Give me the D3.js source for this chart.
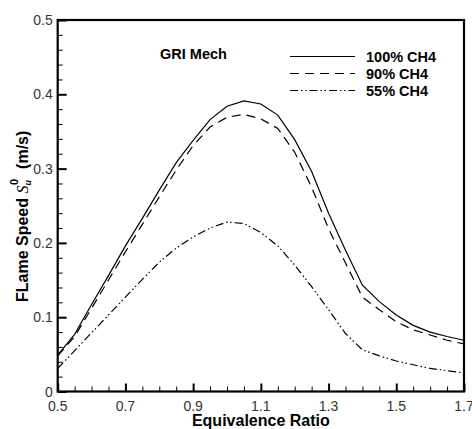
<!DOCTYPE html>
<head>
  <meta charset="utf-8">
  <style>
  body { margin: 0; background: #fff; }
  svg { display: block; font-family: "Liberation Sans", Arial, sans-serif; }
  .tickLabel { font-size: 14px; fill: #333; }
  .axisTitle { font-size: 16px; font-weight: bold; fill: #000; }
  .legendText { font-size: 14.5px; font-weight: bold; fill: #000; }
  .curve { fill: none; stroke: #000; stroke-width: 1.2; }
  </style>
</head>
<body>
<script src="https://cdn.jsdelivr.net/npm/d3@7"></script>
<script>
  const width = 472, height = 429;
  const margin = { top: 20, right: 8, bottom: 37.5, left: 57.7 };

  // equivalence ratio samples
  const phi = [0.5, 0.55, 0.6, 0.65, 0.7, 0.75, 0.8, 0.85, 0.9, 0.95, 1.0, 1.05, 1.1,
               1.15, 1.2, 1.25, 1.3, 1.35, 1.4, 1.45, 1.5, 1.55, 1.6, 1.65, 1.7];
  const ch4_100 = [0.049, 0.077, 0.117, 0.156, 0.196, 0.233, 0.271, 0.308, 0.338, 0.366, 0.384, 0.391, 0.387,
                   0.372, 0.339, 0.296, 0.240, 0.190, 0.143, 0.121, 0.103, 0.089, 0.080, 0.074, 0.069];
  const ch4_90 = [0.048, 0.074, 0.112, 0.150, 0.188, 0.225, 0.262, 0.298, 0.331, 0.356, 0.369, 0.373, 0.367,
                  0.354, 0.322, 0.275, 0.219, 0.173, 0.127, 0.110, 0.094, 0.083, 0.076, 0.069, 0.064];
  const ch4_55 = [0.031, 0.055, 0.079, 0.103, 0.127, 0.151, 0.174, 0.193, 0.208, 0.220, 0.228, 0.226, 0.214,
                  0.196, 0.170, 0.141, 0.110, 0.078, 0.056, 0.048, 0.041, 0.036, 0.031, 0.028, 0.025];
  const seriesNames = ["100% CH4", "90% CH4", "55% CH4"];
  const dashes = ["none", "9,6", "8,3,1.5,2.5,1.5,3"];

  const xTicks = [0.5, 0.7, 0.9, 1.1, 1.3, 1.5, 1.7];
  const yTicks = [0, 0.1, 0.2, 0.3, 0.4, 0.5];

  const x = d3.scaleLinear().domain([0.5, 1.7]).range([margin.left, width - margin.right]);
  const y = d3.scaleLinear().domain([0, 0.5]).range([height - margin.bottom, margin.top]);

  const svg = d3.select("body").append("svg")
    .attr("width", width)
    .attr("height", height);

  // curves
  const line = d3.line().x(d => x(d[0])).y(d => y(d[1]));
  [ch4_100, ch4_90, ch4_55].forEach((vals, i) => {
    svg.append("path")
      .attr("class", "curve")
      .attr("stroke-dasharray", dashes[i])
      .attr("d", line(phi.map((p, j) => [p, vals[j]])));
  });

  const isMajor = (ticks, d) => ticks.some(t => Math.abs(t - d) < 1e-6);

  // axes: inward ticks
  const xAxis = d3.axisTop(x)
    .tickValues(d3.range(0.5, 1.7001, 0.05))
    .tickSize(5).tickFormat("").tickSizeOuter(0);
  svg.append("g")
    .attr("transform", `translate(0,${y(0)})`)
    .call(xAxis)
    .call(g => g.selectAll(".tick line")
      .attr("y2", d => isMajor(xTicks, d) ? -8 : -5)
      .attr("stroke-width", d => isMajor(xTicks, d) ? 2 : 1))
    .call(g => g.select(".domain").remove());

  const yAxis = d3.axisRight(y)
    .tickValues(d3.range(0, 0.5001, 0.02))
    .tickSize(5).tickFormat("").tickSizeOuter(0);
  svg.append("g")
    .attr("transform", `translate(${x(0.5)},0)`)
    .call(yAxis)
    .call(g => g.selectAll(".tick line")
      .attr("x2", d => isMajor(yTicks, d) ? 9 : 5)
      .attr("stroke-width", d => isMajor(yTicks, d) ? 2 : 1))
    .call(g => g.select(".domain").remove());

  // frame
  svg.append("rect")
    .attr("x", x(0.5)).attr("y", y(0.5))
    .attr("width", x(1.7) - x(0.5)).attr("height", y(0) - y(0.5))
    .attr("fill", "none").attr("stroke", "#000").attr("stroke-width", 2.2);

  // tick labels
  svg.selectAll(".xLabel").data(xTicks).enter().append("text")
    .attr("class", "tickLabel")
    .attr("x", d => x(d)).attr("y", y(0) + 19.5)
    .attr("text-anchor", "middle")
    .text(d => d.toFixed(1));
  svg.selectAll(".yLabel").data(yTicks).enter().append("text")
    .attr("class", "tickLabel")
    .attr("x", x(0.5) - 5).attr("y", d => y(d) + 5)
    .attr("text-anchor", "end")
    .text(d => d === 0 ? "0" : d.toFixed(1));

  // axis titles
  svg.append("text")
    .attr("class", "axisTitle")
    .attr("x", (x(0.5) + x(1.7)) / 2).attr("y", 425.5)
    .attr("text-anchor", "middle")
    .text("Equivalence Ratio");

  const yt = svg.append("text")
    .attr("class", "axisTitle")
    .attr("font-size", "17px")
    .attr("transform", "translate(28,302) rotate(-90)")
    .attr("text-anchor", "start");
  yt.append("tspan").text("FLame Speed ");
  yt.append("tspan").attr("font-style", "italic").attr("font-family", "Liberation Serif, serif").attr("font-weight", "normal").text("S");
  yt.append("tspan").attr("font-size", "9px").attr("font-style", "italic").attr("dy", 3).text("u");
  yt.append("tspan").attr("font-size", "11px").attr("dx", -5).attr("dy", -13).text("0");
  yt.append("tspan").attr("dy", 10).attr("dx", 10).text("(m/s)");

  // legend
  svg.append("text")
    .attr("class", "legendText")
    .attr("x", 160).attr("y", 59)
    .text("GRI Mech");
  const legY = [56.5, 73.5, 90.5];
  seriesNames.forEach((name, i) => {
    svg.append("line")
      .attr("class", "curve")
      .attr("x1", 290).attr("x2", 355)
      .attr("y1", legY[i]).attr("y2", legY[i])
      .attr("stroke-dasharray", dashes[i]);
    svg.append("text")
      .attr("class", "legendText")
      .attr("x", 366).attr("y", legY[i] + 5)
      .text(name);
  });
</script>
</body>
